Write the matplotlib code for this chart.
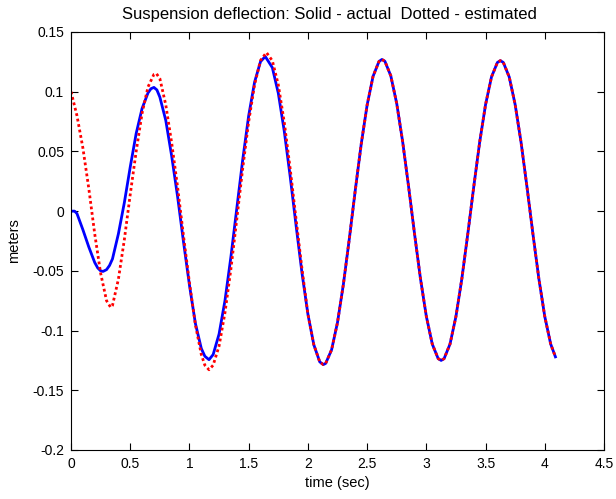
import matplotlib
matplotlib.use('Agg')
import matplotlib.pyplot as plt

plt.rcParams['font.family'] = ['Liberation Sans', 'DejaVu Sans']

# shared tail (t >= 2.0): both curves lie on top of each other here
t_tail = [2.00, 2.05, 2.10, 2.13, 2.15, 2.20, 2.25, 2.30, 2.35, 2.40, 2.45, 2.50,
          2.55, 2.60, 2.625, 2.65, 2.70, 2.75, 2.80, 2.85, 2.90, 2.95, 3.00, 3.05,
          3.10, 3.125, 3.15, 3.20, 3.25, 3.30, 3.35, 3.40, 3.45, 3.50, 3.55, 3.60,
          3.625, 3.65, 3.70, 3.75, 3.80, 3.85, 3.90, 3.95, 4.00, 4.05, 4.09]
y_tail = [-0.0862, -0.1119, -0.1262, -0.1285, -0.1275, -0.1161, -0.0932, -0.0610,
          -0.0230, 0.0175, 0.0560, 0.0888, 0.1128, 0.1253, 0.1270, 0.1255, 0.1133,
          0.0901, 0.0582, 0.0207, -0.0187, -0.0562, -0.0881, -0.1113, -0.1235,
          -0.1250, -0.1235, -0.1113, -0.0882, -0.0565, -0.0191, 0.0201, 0.0575,
          0.0892, 0.1123, 0.1245, 0.1260, 0.1245, 0.1123, 0.0892, 0.0575, 0.0201,
          -0.0191, -0.0565, -0.0882, -0.1113, -0.1220]

# actual (solid blue), t < 2.0
t_act = [0.00, 0.03, 0.05, 0.10, 0.15, 0.20, 0.225, 0.25, 0.27, 0.30, 0.325, 0.35,
         0.40, 0.45, 0.50, 0.55, 0.60, 0.65, 0.675, 0.70, 0.725, 0.75, 0.80, 0.85,
         0.90, 0.95, 1.00, 1.05, 1.10, 1.13, 1.165, 1.20, 1.25, 1.30, 1.35, 1.40,
         1.45, 1.50, 1.55, 1.60, 1.64, 1.70, 1.75, 1.80, 1.85, 1.90, 1.95]
y_act = [0.0, 0.0, -0.002, -0.0155, -0.030, -0.043, -0.0475, -0.050, -0.0505,
         -0.049, -0.0455, -0.040, -0.019, 0.007, 0.037, 0.065, 0.086, 0.099, 0.1025,
         0.1036, 0.1015, 0.0955, 0.076, 0.046, 0.012, -0.026, -0.062, -0.094, -0.115,
         -0.1215, -0.1244, -0.1201, -0.1029, -0.0748, -0.0382, 0.0026, 0.0433, 0.0799,
         0.1081, 0.1252, 0.1295, 0.1201, 0.0988, 0.0673, 0.0293, -0.0119, -0.0517]

# estimated (dotted red), t < 2.0
t_est = [0.00, 0.05, 0.10, 0.15, 0.20, 0.25, 0.30, 0.335, 0.35, 0.40, 0.45, 0.50,
         0.55, 0.60, 0.65, 0.70, 0.72, 0.75, 0.80, 0.85, 0.90, 0.95, 1.00, 1.05,
         1.10, 1.13, 1.165, 1.20, 1.25, 1.30, 1.35, 1.40, 1.45, 1.50, 1.55, 1.60,
         1.65, 1.70, 1.75, 1.80, 1.85, 1.90, 1.95]
y_est = [0.100, 0.080, 0.053, 0.019, -0.019, -0.052, -0.075, -0.0806, -0.079,
         -0.057, -0.024, 0.014, 0.050, 0.082, 0.104, 0.1145, 0.1153, 0.111, 0.089,
         0.057, 0.020, -0.021, -0.060, -0.095, -0.120, -0.129, -0.1328, -0.1290,
         -0.1129, -0.0849, -0.0483, -0.0064, 0.0362, 0.0750, 0.1060, 0.1262, 0.1328,
         0.1259, 0.1058, 0.0747, 0.0358, -0.0066, -0.0482]

fig = plt.figure(figsize=(6.16, 4.99), dpi=100)
ax = fig.add_axes([0.1153, 0.0982, 0.8652, 0.8377])

ax.plot(t_act + t_tail, y_act + y_tail, color='#0000ff', linewidth=2)
ax.plot(t_est + t_tail, y_est + y_tail, color='#ff0000', linewidth=2,
        linestyle=(0, (1, 1)))

ax.set_xlim(0, 4.5)
ax.set_ylim(-0.2, 0.15)
ax.set_xticks([0, 0.5, 1, 1.5, 2, 2.5, 3, 3.5, 4, 4.5])
ax.set_xticklabels(['0', '0.5', '1', '1.5', '2', '2.5', '3', '3.5', '4', '4.5'])
ax.set_yticks([-0.2, -0.15, -0.1, -0.05, 0, 0.05, 0.1, 0.15])
ax.set_yticklabels(['-0.2', '-0.15', '-0.1', '-0.05', '0', '0.05', '0.1', '0.15'])
ax.tick_params(direction='in', length=5, width=0.8, top=True, right=True,
               labelsize=10, pad=5)
for s in ax.spines.values():
    s.set_linewidth(0.8)

ax.set_title('Suspension deflection: Solid - actual  Dotted - estimated',
             fontsize=12, pad=9, x=0.485)
ax.set_xlabel('time (sec)', fontsize=10.5, labelpad=4)
ax.set_ylabel('meters', fontsize=10.5, labelpad=8)

fig.savefig('out.png', dpi=100)
